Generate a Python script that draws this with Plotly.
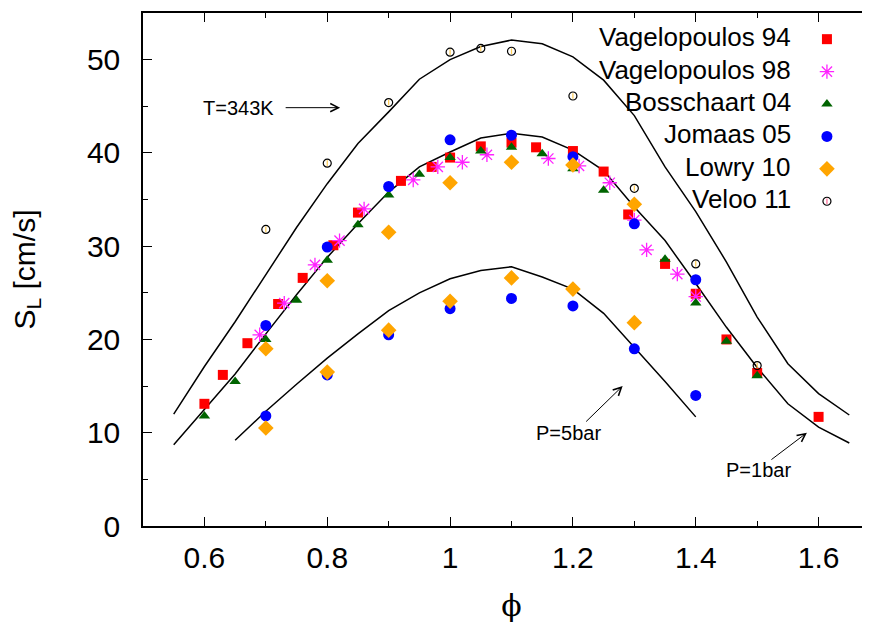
import plotly.graph_objects as go

# --- measured data (phi, S_L in cm/s) ---
PHI_V94 = [0.60, 0.63, 0.67, 0.72, 0.76, 0.81, 0.85, 0.92, 0.97, 1.00, 1.05, 1.10, 1.14, 1.20, 1.25, 1.29, 1.35, 1.40, 1.45, 1.50, 1.60]
SL_V94 = [13.1, 16.2, 19.6, 23.8, 26.6, 30.1, 33.6, 37.0, 38.5, 39.5, 40.7, 41.1, 40.6, 40.2, 38.0, 33.4, 28.1, 24.9, 20.0, 16.4, 11.7]

PHI_V98 = [0.69, 0.73, 0.78, 0.82, 0.86, 0.94, 0.98, 1.02, 1.06, 1.16, 1.21, 1.26, 1.30, 1.32, 1.37, 1.40]
SL_V98 = [20.5, 23.9, 28.0, 30.6, 34.0, 37.1, 38.5, 39.0, 39.8, 39.4, 38.6, 36.8, 32.8, 29.6, 27.0, 24.6]

PHI_B04 = [0.60, 0.65, 0.70, 0.75, 0.80, 0.85, 0.90, 0.95, 1.00, 1.05, 1.10, 1.15, 1.20, 1.25, 1.35, 1.40, 1.45, 1.50]
SL_B04 = [11.8, 15.5, 20.0, 24.2, 28.5, 32.3, 35.5, 37.7, 39.5, 40.2, 40.6, 39.9, 38.3, 36.0, 28.6, 23.9, 19.8, 16.1]

PHI_J05 = [0.70, 0.80, 0.90, 1.00, 1.10, 1.20, 1.30, 1.40,
           0.70, 0.80, 0.90, 1.00, 1.10, 1.20, 1.30, 1.40]
SL_J05 = [21.5, 29.9, 36.4, 41.4, 41.9, 39.6, 32.4, 26.4,
          11.8, 16.2, 20.5, 23.3, 24.4, 23.6, 19.0, 14.0]

PHI_L10 = [0.70, 0.80, 0.90, 1.00, 1.10, 1.20, 1.30,
           0.70, 0.80, 0.90, 1.00, 1.10, 1.20, 1.30]
SL_L10 = [19.0, 26.3, 31.5, 36.8, 39.0, 38.7, 34.5,
          10.5, 16.5, 21.0, 24.1, 26.6, 25.4, 21.8]

PHI_V11 = [0.70, 0.80, 0.90, 1.00, 1.05, 1.10, 1.20, 1.30, 1.40, 1.50]
SL_V11 = [31.8, 38.9, 45.4, 50.8, 51.2, 50.9, 46.1, 36.2, 28.1, 17.2]

# --- model curves ---
PHI_T343 = [0.55, 0.60, 0.65, 0.70, 0.75, 0.80, 0.85, 0.90, 0.95, 1.00, 1.05, 1.10,
            1.15, 1.20, 1.25, 1.30, 1.35, 1.40, 1.45, 1.50, 1.55, 1.60, 1.65]
SL_T343 = [12.0, 17.1, 21.9, 27.0, 32.0, 36.7, 41.0, 44.4, 47.9, 50.0, 51.4, 52.1,
           51.7, 50.3, 47.8, 44.0, 38.5, 33.7, 28.3, 22.4, 17.4, 14.2, 11.9]

PHI_P1 = [0.55, 0.60, 0.65, 0.70, 0.75, 0.80, 0.85, 0.90, 0.95, 1.00, 1.05, 1.10,
          1.15, 1.20, 1.25, 1.30, 1.35, 1.40, 1.45, 1.50, 1.55, 1.60, 1.65]
SL_P1 = [8.7, 12.5, 16.3, 20.6, 24.8, 28.8, 32.4, 35.8, 38.5, 40.1, 41.6, 42.1,
         41.7, 40.3, 38.1, 34.2, 30.6, 26.0, 21.3, 17.0, 13.1, 10.6, 8.9]

PHI_P5 = [0.65, 0.70, 0.75, 0.80, 0.85, 0.90, 0.95, 1.00, 1.05, 1.10, 1.15, 1.20, 1.25, 1.30, 1.35, 1.40]
SL_P5 = [9.2, 12.3, 15.2, 18.0, 20.6, 23.1, 25.0, 26.5, 27.4, 27.8, 26.7, 25.4, 22.8, 19.2, 15.5, 11.7]

LEGEND_NAMES = ["Vagelopoulos 94", "Vagelopoulos 98", "Bosschaart 04",
                "Jomaas 05", "Lowry 10", "Veloo 11"]

FONT = "Liberation Sans, Arial, sans-serif"

# marker style per series
STYLES = [
    dict(symbol="square", size=10, color="#ff0000"),
    dict(symbol="asterisk-open", size=12, color="#ff22ff", line=dict(width=1.3, color="#ff22ff")),
    dict(symbol="triangle-up", size=10, color="#006400"),
    dict(symbol="circle", size=11, color="#0000ff"),
    dict(symbol="diamond", size=12, color="#ffa500"),
    dict(symbol="circle-open", size=8, color="#000000", line=dict(width=1.2, color="#000000")),
]
TICK_MARK = dict(symbol="line-ns-open", size=4, line=dict(width=1.2, color="black"))

series = [(PHI_V94, SL_V94), (PHI_V98, SL_V98), (PHI_B04, SL_B04),
          (PHI_J05, SL_J05), (PHI_L10, SL_L10), (PHI_V11, SL_V11)]

fig = go.Figure()

for phi, sl in [(PHI_T343, SL_T343), (PHI_P1, SL_P1), (PHI_P5, SL_P5)]:
    fig.add_trace(go.Scatter(x=phi, y=sl, mode="lines",
                             line=dict(color="black", width=1.5),
                             showlegend=False, hoverinfo="skip"))

for (phi, sl), st in zip(series, STYLES):
    fig.add_trace(go.Scatter(x=phi, y=sl, mode="markers", marker=st, showlegend=False))

# small tick inside the Veloo circles
fig.add_trace(go.Scatter(x=PHI_V11, y=SL_V11, mode="markers", showlegend=False, marker=TICK_MARK))

# hand-made legend: text right-aligned, symbol to the right
row0 = 0.949
step = 0.0632
for i, (name, st) in enumerate(zip(LEGEND_NAMES, STYLES)):
    yy = row0 - i * step
    fig.add_trace(go.Scatter(x=[0.928], y=[yy], mode="markers", marker=st,
                             xaxis="x2", yaxis="y2", showlegend=False, hoverinfo="skip"))
    fig.add_annotation(x=0.882, y=yy + 0.004, xref="paper", yref="paper", text=name,
                       showarrow=False, xanchor="right", yanchor="middle",
                       font=dict(family=FONT, size=26, color="black"))

fig.add_trace(go.Scatter(x=[0.928], y=[row0 - 5 * step], mode="markers", marker=TICK_MARK,
                         xaxis="x2", yaxis="y2", showlegend=False, hoverinfo="skip"))

# curve labels and arrows
labels = [("T=343K", 0.655, 44.85), ("P=5bar", 1.192, 9.97), ("P=1bar", 1.5016, 6.0)]
for txt, lx, ly in labels:
    fig.add_annotation(x=lx, y=ly, text=txt, showarrow=False,
                       font=dict(family=FONT, size=20, color="black"))

arrows = [(0.821, 44.85, -56, 0), (1.281, 15.01, -38, 37), (1.581, 10.0, -37, 28)]
for ax_, ay_, dx, dy in arrows:
    fig.add_annotation(x=ax_, y=ay_, ax=dx, ay=dy, text="", showarrow=True,
                       arrowhead=5, arrowsize=1.6, arrowwidth=1, arrowcolor="black")

# the page is drawn 8 px in from the window corner; the frame runs past the right edge
fig.update_layout(
    width=872, height=615,
    margin=dict(l=135, r=0, t=5, b=97),
    paper_bgcolor="white", plot_bgcolor="white",
    font=dict(family=FONT, color="black"),
    showlegend=False,
    xaxis=dict(
        range=[0.5, 1.7], dtick=0.2, tick0=0,
        showgrid=False, zeroline=False,
        showline=True, linecolor="black", linewidth=1.5, mirror="ticks",
        ticks="inside", ticklen=9, tickwidth=1, tickcolor="black",
        minor=dict(dtick=0.1, ticks="inside", ticklen=5, tickwidth=1, tickcolor="black"),
        tickfont=dict(family=FONT, size=30), ticklabelstandoff=4,
        title=dict(text="ϕ", standoff=25,
                   font=dict(family="DejaVu Serif, serif", size=30)),
    ),
    yaxis=dict(
        range=[0, 55], dtick=10,
        showgrid=False, zeroline=False,
        showline=True, linecolor="black", linewidth=1.5,
        ticks="inside", ticklen=9, tickwidth=1, tickcolor="black",
        minor=dict(dtick=5, ticks="inside", ticklen=5, tickwidth=1, tickcolor="black"),
        tickfont=dict(family=FONT, size=30), ticklabelstandoff=15,
        title=dict(text="S<sub>L</sub> [cm/s]", font=dict(family=FONT, size=30), standoff=45),
    ),
    xaxis2=dict(overlaying="x", range=[0, 1], visible=False),
    yaxis2=dict(overlaying="y", range=[0, 1], visible=False),
)

fig.write_html("out.html")
